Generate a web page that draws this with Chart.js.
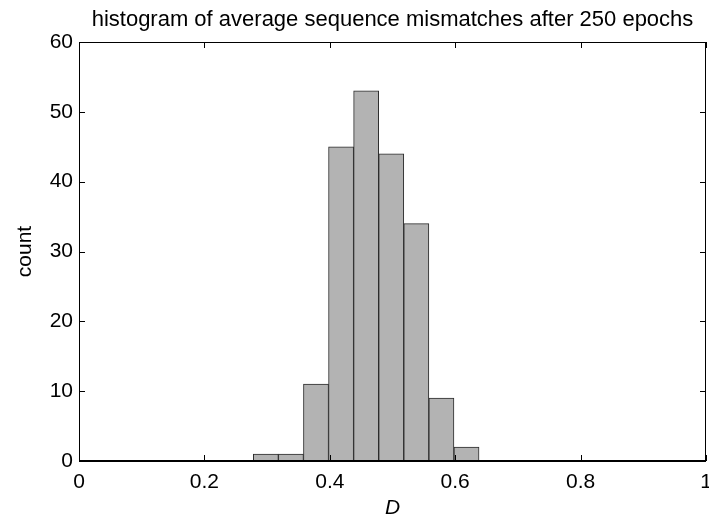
<!DOCTYPE html>
<html>
<head>
<meta charset="utf-8">
<script src="https://cdn.jsdelivr.net/npm/chart.js@4"></script>
<style>
  html, body { margin: 0; padding: 0; background: #fff; }
  #wrap { width: 709px; height: 521px; }
</style>
</head>
<body>
<div id="wrap"><canvas id="histChart" width="709" height="521"></canvas></div>
<script>
// bin centres (D) and counts
const binCenters = [0.298, 0.338, 0.378, 0.418, 0.458, 0.498, 0.538, 0.578, 0.618];
const counts = [1, 1, 11, 45, 53, 44, 34, 9, 2];
const xTicks = [0, 0.2, 0.4, 0.6, 0.8, 1];
const yTicks = [0, 10, 20, 30, 40, 50, 60];

const FONT = 'Liberation Sans, Arial, sans-serif';

// MATLAB style box with inward ticks on all four sides
const boxTicks = {
    id: 'boxTicks',
    afterDraw(chart) {
        const { ctx, chartArea: a, scales } = chart;
        const len = 6;
        ctx.save();
        ctx.strokeStyle = '#000';
        ctx.lineWidth = 1;
        ctx.beginPath();
        xTicks.forEach(v => {
            const px = Math.round(scales.x.getPixelForValue(v)) + 0.5;
            ctx.moveTo(px, a.bottom); ctx.lineTo(px, a.bottom - len);
            ctx.moveTo(px, a.top); ctx.lineTo(px, a.top + len);
        });
        yTicks.forEach(v => {
            const py = Math.round(scales.y.getPixelForValue(v)) + 0.5;
            ctx.moveTo(a.left, py); ctx.lineTo(a.left + len, py);
            ctx.moveTo(a.right, py); ctx.lineTo(a.right - len, py);
        });
        ctx.stroke();
        ctx.strokeRect(a.left + 0.5, a.top + 0.5, a.right - a.left - 1, a.bottom - a.top);
        ctx.lineWidth = 2;
        ctx.beginPath();
        ctx.moveTo(a.left, a.bottom); ctx.lineTo(a.right, a.bottom);
        ctx.stroke();
        ctx.restore();
    }
};

const ctx = document.getElementById('histChart').getContext('2d');

const histChart = new Chart(ctx, {
    type: 'bar',
    data: {
        datasets: [{
            label: 'count',
            data: binCenters.map((c, i) => ({ x: c, y: counts[i] })),
            backgroundColor: '#b3b3b3',
            borderColor: '#2b2b2b',
            borderWidth: 1,
            barPercentage: 1,
            categoryPercentage: 1
        }]
    },
    options: {
        responsive: false,
        animation: false,
        layout: { padding: { left: 0, right: 3, top: 0, bottom: 0 } },
        plugins: {
            legend: { display: false },
            tooltip: { enabled: false },
            title: {
                display: true,
                fullSize: false,
                text: 'histogram of average sequence mismatches after 250 epochs',
                color: '#000',
                font: { family: FONT, size: 22, weight: 'normal' },
                padding: { top: 7, bottom: 8.6 }
            }
        },
        scales: {
            x: {
                type: 'linear',
                offset: false,
                min: 0,
                max: 1,
                afterBuildTicks: s => { s.ticks = xTicks.map(v => ({ value: v })); },
                afterFit: s => { s.height = 60; s.paddingLeft = 0; s.paddingRight = 0; },
                grid: { display: false, drawTicks: false },
                border: { display: false },
                ticks: {
                    color: '#000',
                    font: { family: FONT, size: 21 },
                    padding: 9,
                    maxRotation: 0,
                    callback: v => String(v)
                },
                title: {
                    display: true,
                    text: 'D',
                    color: '#000',
                    font: { family: FONT, size: 21, style: 'italic' },
                    padding: { top: 0, bottom: 0 }
                }
            },
            y: {
                min: 0,
                max: 60,
                afterBuildTicks: s => { s.ticks = yTicks.map(v => ({ value: v })); },
                afterFit: s => { s.width = 79; },
                grid: { display: false, drawTicks: false },
                border: { display: false },
                ticks: {
                    color: '#000',
                    font: { family: FONT, size: 21 },
                    padding: 6
                },
                title: {
                    display: true,
                    text: 'count',
                    color: '#000',
                    font: { family: FONT, size: 21 },
                    padding: { top: 13, bottom: 0 }
                }
            }
        }
    },
    plugins: [boxTicks]
});
</script>
</body>
</html>
